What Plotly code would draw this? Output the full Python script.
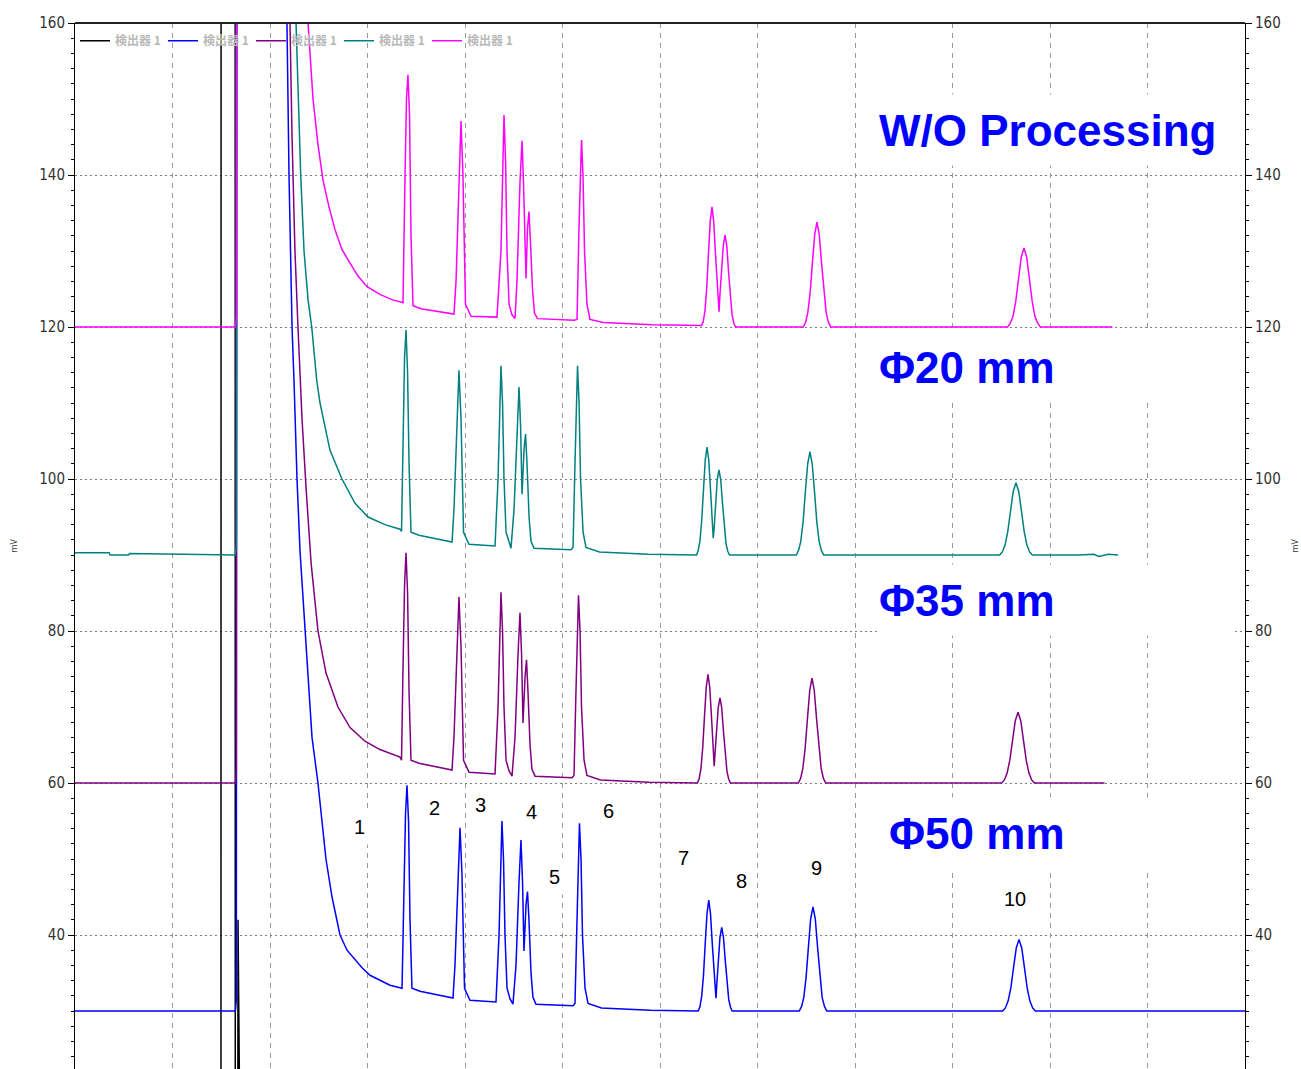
import plotly.graph_objects as go

# ---------------- data (time in min, signal in mV) ----------------
black_t = [0, 1.497, 1.500, 1.641, 1.644, 1.669, 1.672, 1.700, 12.0]
black_v = [0, 0, 400, 400, 0, 0, 42, 0, 0]

blue_t = [0, 1.645, 1.655, 1.665, 2.15,
          2.174, 2.195, 2.226, 2.246, 2.277, 2.308, 2.359, 2.410, 2.431, 2.492, 2.533, 2.574, 2.636, 2.718, 2.790,
          2.872, 2.944, 3.026, 3.128, 3.231, 3.354,
          3.374, 3.390, 3.405, 3.421, 3.436, 3.456, 3.538, 3.877,
          3.897, 3.928, 3.949, 3.969, 3.995, 4.051, 4.318,
          4.349, 4.369, 4.379, 4.395, 4.410, 4.431, 4.462, 4.492,
          4.523, 4.554, 4.574, 4.590, 4.605, 4.626, 4.641, 4.656, 4.677, 4.697, 4.728, 5.108,
          5.128, 5.149, 5.164, 5.174, 5.190, 5.205, 5.231, 5.262, 5.400, 5.900, 6.392,
          6.410, 6.428, 6.446, 6.464, 6.482, 6.500, 6.518, 6.536, 6.554, 6.565, 6.574, 6.583, 6.597, 6.615,
          6.633, 6.651, 6.669, 6.687, 6.705, 6.723, 6.741,
          7.428, 7.452, 7.475, 7.498, 7.522, 7.545, 7.569, 7.593, 7.616, 7.640, 7.663, 7.687, 7.710,
          9.514, 9.542, 9.570, 9.598, 9.626, 9.654, 9.682, 9.710, 9.738, 9.766, 9.794, 9.822, 9.850, 12.0]
blue_v = [30, 30, 31.5, 400, 200,
          160, 140, 120, 113, 100, 90.5, 80, 71, 66, 60, 54.5, 50, 45, 40, 38,
          36.7, 35.7, 34.7, 34.0, 33.4, 33.0,
          45, 56, 59.7, 55, 42, 33.0, 32.6, 31.7,
          36, 48, 54.1, 48, 33, 31.4, 31.2,
          40, 52, 55.0, 50, 40, 33, 31.6, 30.9,
          36, 47, 52.5, 47, 37.9, 44, 45.7, 42, 35, 31.8, 30.9, 30.7,
          31, 42, 52, 54.7, 50, 40, 33, 31.0, 30.4, 30.1, 30.0,
          30.6, 32.0, 34.7, 38.9, 42.8, 44.6, 42.8, 38.9, 34.7, 32.4, 31.7, 33.6, 36.7, 39.7,
          41.0, 39.7, 36.7, 33.5, 31.5, 30.5, 30.0,
          30.0, 30.6, 31.8, 34.4, 38.4, 42.1, 43.7, 42.1, 38.4, 34.4, 31.8, 30.6, 30.0,
          30.0, 30.4, 31.3, 33.0, 35.7, 38.3, 39.4, 38.3, 35.7, 33.0, 31.3, 30.4, 30.0, 30.0]

purple_t = [0, 1.645, 1.655, 1.665, 2.17,
            2.205, 2.226, 2.256, 2.287, 2.328, 2.369, 2.421, 2.492, 2.574, 2.697, 2.821, 2.974, 3.128, 3.333, 3.349,
            3.364, 3.380, 3.395, 3.411, 3.426, 3.446, 3.528, 3.867,
            3.887, 3.918, 3.938, 3.959, 3.985, 4.041, 4.308,
            4.339, 4.359, 4.369, 4.385, 4.400, 4.421, 4.452, 4.482,
            4.513, 4.544, 4.564, 4.580, 4.595, 4.616, 4.631, 4.646, 4.667, 4.687, 4.718, 5.097,
            5.118, 5.138, 5.154, 5.164, 5.180, 5.195, 5.221, 5.251, 5.39, 5.89, 6.384,
            6.402, 6.420, 6.438, 6.456, 6.474, 6.492, 6.510, 6.528, 6.546, 6.556, 6.566, 6.579, 6.597,
            6.615, 6.633, 6.651, 6.669, 6.687, 6.705, 6.723,
            7.418, 7.442, 7.465, 7.488, 7.512, 7.536, 7.559, 7.582, 7.606, 7.630, 7.653, 7.676, 7.700,
            9.504, 9.532, 9.560, 9.588, 9.616, 9.644, 9.672, 9.700, 9.728, 9.756, 9.784, 9.812, 9.840, 10.56]
purple_v = [60, 60, 61.5, 400, 200,
            160, 145, 130, 120, 108, 99, 89, 80, 74.5, 70, 67.3, 65.5, 64.4, 63.4, 63.0,
            75, 86, 90.3, 85, 72, 63.0, 62.6, 61.7,
            66, 78, 84.5, 78, 63, 61.4, 61.2,
            70, 82, 85.1, 80, 70, 63, 61.6, 60.9,
            66, 77, 82.4, 77, 67.9, 74, 76.2, 72, 65, 61.8, 60.9, 60.7,
            61, 72, 82, 84.7, 80, 70, 63, 61, 60.4, 60.1, 60.0,
            60.6, 61.9, 64.6, 68.7, 72.6, 74.3, 72.6, 68.7, 64.6, 62.2, 64.2, 66.8, 69.9,
            71.2, 69.9, 66.8, 63.6, 61.5, 60.5, 60.0,
            60.0, 60.6, 61.9, 64.5, 68.4, 72.2, 73.8, 72.2, 68.4, 64.5, 61.9, 60.6, 60.0,
            60.0, 60.4, 61.3, 63.0, 65.6, 68.2, 69.3, 68.2, 65.6, 63.0, 61.3, 60.4, 60.0, 60.0]

teal_t = [0, 0.35, 0.36, 0.55, 0.56, 1.645, 1.655, 1.665, 2.23,
          2.267, 2.315, 2.349, 2.390, 2.428, 2.479, 2.513, 2.615, 2.738, 2.872, 3.005, 3.179, 3.333, 3.349,
          3.364, 3.380, 3.395, 3.411, 3.426, 3.446, 3.528, 3.867,
          3.887, 3.918, 3.938, 3.959, 3.985, 4.041, 4.308,
          4.339, 4.359, 4.369, 4.385, 4.400, 4.421, 4.452, 4.472,
          4.503, 4.533, 4.554, 4.570, 4.585, 4.606, 4.621, 4.636, 4.657, 4.677, 4.708, 5.087,
          5.108, 5.128, 5.144, 5.154, 5.170, 5.185, 5.211, 5.241, 5.38, 5.88, 6.374,
          6.392, 6.410, 6.428, 6.446, 6.464, 6.482, 6.500, 6.518, 6.536, 6.546, 6.556, 6.569, 6.587,
          6.605, 6.623, 6.641, 6.659, 6.677, 6.695, 6.713,
          7.397, 7.421, 7.444, 7.468, 7.491, 7.515, 7.538, 7.561, 7.585, 7.608, 7.632, 7.655, 7.679,
          9.483, 9.511, 9.539, 9.567, 9.595, 9.623, 9.651, 9.679, 9.707, 9.735, 9.763, 9.791, 9.819,
          10.30, 10.45, 10.50, 10.60, 10.70]
teal_v = [90.3, 90.3, 90.0, 90.0, 90.2, 90.0, 91.5, 400, 200,
          160, 140, 130, 123.6, 120, 113, 110, 103.8, 100, 96.8, 95, 94, 93.4, 93.1,
          105, 116, 119.6, 114, 102, 93.0, 92.6, 91.7,
          96, 108, 114.3, 108, 93, 91.4, 91.2,
          100, 112, 114.9, 110, 100, 93, 91.6, 90.9,
          96, 107, 112.1, 107, 98, 104, 105.9, 102, 95, 91.8, 90.9, 90.7,
          91, 102, 112, 114.9, 110, 100, 93, 91, 90.4, 90.1, 90.0,
          90.6, 91.9, 94.6, 98.6, 102.5, 104.2, 102.5, 98.6, 94.6, 92.2, 93.6, 96.8, 99.9,
          101.2, 99.9, 96.8, 93.6, 91.5, 90.5, 90.0,
          90.0, 90.6, 91.8, 94.4, 98.3, 102.0, 103.6, 102.0, 98.3, 94.4, 91.8, 90.6, 90.0,
          90.0, 90.4, 91.3, 93.1, 95.8, 98.4, 99.5, 98.4, 95.8, 93.1, 91.3, 90.4, 90.0,
          90.0, 90.1, 89.8, 90.1, 90.0]

magenta_t = [0, 1.645, 1.655, 1.665, 2.33,
             2.390, 2.441, 2.492, 2.544, 2.605, 2.667, 2.738, 2.821, 2.903, 2.995, 3.128, 3.251, 3.364,
             3.385, 3.400, 3.415, 3.431, 3.446, 3.467, 3.548, 3.887,
             3.908, 3.938, 3.959, 3.979, 4.005, 4.061, 4.328,
             4.369, 4.390, 4.400, 4.416, 4.431, 4.452, 4.482, 4.513,
             4.533, 4.564, 4.585, 4.600, 4.626, 4.641, 4.656, 4.672, 4.692, 4.713, 4.744, 5.118,
             5.149, 5.169, 5.185, 5.195, 5.210, 5.226, 5.251, 5.282, 5.42, 5.92, 6.425,
             6.443, 6.461, 6.479, 6.497, 6.515, 6.533, 6.551, 6.569, 6.587, 6.597, 6.606, 6.615, 6.631,
             6.649, 6.667, 6.685, 6.703, 6.721, 6.739, 6.757, 6.775,
             7.469, 7.493, 7.516, 7.540, 7.563, 7.587, 7.610, 7.633, 7.657, 7.681, 7.704, 7.728, 7.751,
             9.565, 9.593, 9.621, 9.649, 9.677, 9.705, 9.733, 9.761, 9.789, 9.817, 9.845, 9.873, 9.901, 10.64]
magenta_v = [120, 120, 121.5, 400, 200,
             160, 150, 144, 139.3, 135.8, 132.8, 130.2, 128.4, 126.7, 125.3, 124.3, 123.6, 123.2,
             140, 150, 153.2, 148, 132, 122.8, 122.4, 121.7,
             126, 140, 147.1, 140, 123, 121.4, 121.3,
             130, 144, 147.9, 142, 130, 123, 121.6, 121.1,
             126, 139, 144.5, 139, 126.4, 133, 135.2, 131, 125, 121.8, 121.1, 120.9,
             121, 133, 142, 144.6, 140, 130, 123, 121, 120.6, 120.3, 120.2,
             120.7, 122.1, 125.1, 129.6, 133.9, 135.8, 133.9, 129.6, 125.1, 122.8, 122.0, 124.3, 127.3,
             130.7, 132.1, 130.7, 127.3, 123.9, 121.6, 120.5, 120.0,
             120.0, 120.6, 121.9, 124.5, 128.4, 132.2, 133.8, 132.2, 128.4, 124.5, 121.9, 120.6, 120.0,
             120.0, 120.5, 121.4, 123.4, 126.3, 129.2, 130.4, 129.2, 126.3, 123.4, 121.4, 120.5, 120.0, 120.0]

legend_name = "検出器 1"
peak_labels = ["1", "2", "3", "4", "5", "6", "7", "8", "9", "10"]
peak_label_t = [2.913, 3.682, 4.154, 4.687, 4.923, 5.467, 6.236, 6.831, 7.610, 9.641]
peak_label_v = [54.2, 56.7, 57.1, 56.2, 47.6, 56.3, 50.1, 47.1, 48.8, 44.7]
series_labels = ["W/O Processing", "Φ20 mm", "Φ35 mm", "Φ50 mm"]
series_label_t = [8.24, 8.24, 8.24, 8.34]
series_label_v = [145.9, 114.7, 84.1, 53.4]
y_ticks = [40, 60, 80, 100, 120, 140, 160]

YR = [22.37, 160]

fig = go.Figure()
traces = [(black_t, black_v, "#000000"), (blue_t, blue_v, "#0000ff"),
          (purple_t, purple_v, "#800080"), (teal_t, teal_v, "#008080"),
          (magenta_t, magenta_v, "#ff00ff")]
for t, v, c in traces:
    fig.add_trace(go.Scatter(x=t, y=v, mode="lines", name=legend_name,
                             line=dict(color=c, width=1.5), hoverinfo="skip"))
# empty trace to host the right-hand axis
fig.add_trace(go.Scatter(x=[None], y=[None], yaxis="y2", showlegend=False, hoverinfo="skip"))

tickfont = dict(family="DejaVu Sans Condensed, Liberation Sans Narrow, sans-serif", size=15, color="#333333")
common_y = dict(range=YR, tickmode="array", tickvals=y_ticks, ticks="outside", ticklen=6,
                tickcolor="black", showline=True, linecolor="black", linewidth=1,
                zeroline=False, tickfont=tickfont, automargin=False,
                minor=dict(dtick=2, tick0=0, ticklen=3, tickcolor="black", ticks="outside", showgrid=False))

annotations = []
for txt, t, v in zip(peak_labels, peak_label_t, peak_label_v):
    annotations.append(dict(x=t, y=v, xref="x", yref="y", text=txt, showarrow=False,
                            font=dict(family="Liberation Sans, Arial, sans-serif", size=20, color="black"),
                            bgcolor="white", borderpad=6))
for txt, t, v in zip(series_labels, series_label_t, series_label_v):
    annotations.append(dict(x=t, y=v, xref="x", yref="y", text="<b>" + txt + "</b>", showarrow=False,
                            xanchor="left", yanchor="middle", align="left", width=355, height=70,
                            font=dict(family="Liberation Sans, Arial, sans-serif", size=44, color="#0000ff"),
                            bgcolor="white", borderpad=0))

fig.update_layout(
    width=1301, height=1069,
    margin=dict(l=75, r=56, t=23, b=0, autoexpand=False),
    paper_bgcolor="white", plot_bgcolor="white",
    xaxis=dict(range=[0, 12], dtick=1, tick0=0, showgrid=True, gridcolor="#9a9a9a", gridwidth=1,
               griddash="5px,5px", showticklabels=False, ticks="", zeroline=False, showline=False,
               automargin=False),
    yaxis=dict(**common_y, side="left", showgrid=True, gridcolor="#808080", gridwidth=1, griddash="2px,3px",
               title=dict(text="mV", font=dict(size=9, color="#333333"), standoff=20)),
    yaxis2=dict(**common_y, side="right", overlaying="y", showgrid=False,
                title=dict(text="mV", font=dict(size=9, color="#333333"), standoff=22)),
    showlegend=True,
    legend=dict(orientation="h", x=0.0, y=0.997, xanchor="left", yanchor="top",
                bgcolor="rgba(0,0,0,0)",
                font=dict(family="Noto Sans CJK JP", size=12, color="#b8b8b8", weight="bold"),
                itemwidth=30, entrywidth=43, entrywidthmode="pixels", tracegroupgap=0),
    annotations=annotations,
    shapes=[dict(type="line", xref="paper", yref="paper", x0=0, x1=1, y0=1, y1=1,
                 line=dict(color="#222222", width=2))],
)

fig.write_html("out.html")
